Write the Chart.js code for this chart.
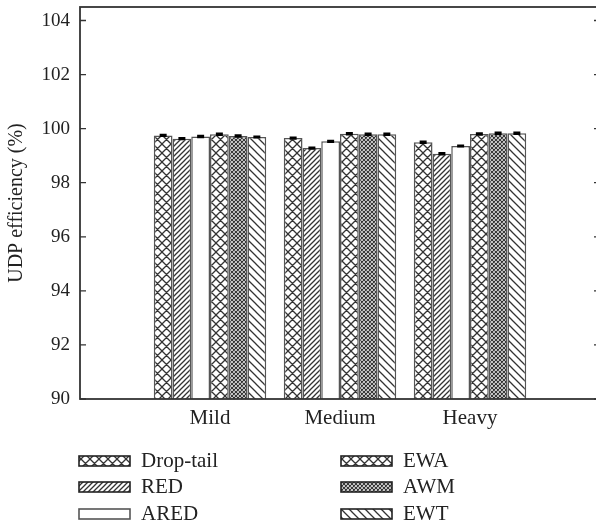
<!DOCTYPE html>
<html lang="en">
  <head>
    <meta charset="UTF-8" />
    <title>UDP efficiency</title>
    <style>
      html, body { margin: 0; padding: 0; background: #fff; overflow: hidden; }
      #wrap { width: 604px; height: 526px; }
    </style>
  </head>
  <body>
    <div id="wrap"><canvas id="myChart" width="604" height="526"></canvas></div>

    <script src="https://cdn.jsdelivr.net/npm/chart.js@4.4.1/dist/chart.umd.min.js"></script>
    <script>
      // data
      const categories = ["Mild", "Medium", "Heavy"];
      const schemes = ["Drop-tail", "RED", "ARED", "EWA", "AWM", "EWT"];
      const dropTail = [99.75, 99.65, 99.50];
      const red = [99.63, 99.28, 99.07];
      const ared = [99.71, 99.53, 99.36];
      const ewa = [99.79, 99.81, 99.80];
      const awm = [99.73, 99.79, 99.83];
      const ewt = [99.69, 99.79, 99.83];
      const errDropTail = [0.03, 0.03, 0.03];
      const errRed = [0.03, 0.03, 0.03];
      const errAred = [0.03, 0.03, 0.02];
      const errEwa = [0.03, 0.03, 0.03];
      const errAwm = [0.03, 0.03, 0.03];
      const errEwt = [0.02, 0.03, 0.03];
      const yTicks = [90, 92, 94, 96, 98, 100, 102, 104];

      const values = [dropTail, red, ared, ewa, awm, ewt];
      const errors = [errDropTail, errRed, errAred, errEwa, errAwm, errEwt];
      const fills = ["cross", "fwd", "none", "cross", "dense", "back"];

      function makePattern(kind) {
        if (kind === "none") return "#ffffff";
        const size = { cross: 9, fwd: 5, dense: 4, back: 8 }[kind];
        const c = document.createElement("canvas");
        c.width = size; c.height = size;
        const g = c.getContext("2d");
        g.fillStyle = "#fff";
        g.fillRect(0, 0, size, size);
        g.strokeStyle = "#333";
        g.lineWidth = kind === "dense" ? 1.2 : 1.3;
        g.beginPath();
        if (kind === "cross" || kind === "dense" || kind === "back") {
          g.moveTo(-1, -1); g.lineTo(size + 1, size + 1);
          g.moveTo(-1, size - 1); g.lineTo(1, size + 1);
          g.moveTo(size - 1, -1); g.lineTo(size + 1, 1);
        }
        if (kind === "cross" || kind === "dense" || kind === "fwd") {
          g.moveTo(-1, size + 1); g.lineTo(size + 1, -1);
          g.moveTo(-1, 1); g.lineTo(1, -1);
          g.moveTo(size - 1, size + 1); g.lineTo(size + 1, size - 1);
        }
        g.stroke();
        return g.createPattern(c, "repeat");
      }

      const datasets = schemes.map((name, i) => ({
        label: name,
        data: values[i].map((v, j) => ({ x: j + 1, y: v })),
        errs: errors[i],
        backgroundColor: makePattern(fills[i]),
        borderColor: "#555",
        borderWidth: 1.5
      }));

      // frame with inward ticks on both sides
      const framePlugin = {
        id: "frame",
        afterDatasetsDraw(chart) {
          const { ctx, chartArea: a, scales } = chart;
          ctx.save();
          ctx.strokeStyle = "#333";
          ctx.lineWidth = 1.8;
          ctx.strokeRect(a.left, a.top, a.right - a.left, a.bottom - a.top);
          ctx.lineWidth = 1.3;
          ctx.beginPath();
          yTicks.forEach(t => {
            const y = scales.y.getPixelForValue(t);
            ctx.moveTo(a.left, y); ctx.lineTo(a.left + 6, y);
            ctx.moveTo(a.right, y); ctx.lineTo(a.right - 6, y);
          });
          ctx.stroke();
          ctx.restore();
        }
      };

      const errorPlugin = {
        id: "errbars",
        afterDatasetsDraw(chart) {
          const { ctx, scales } = chart;
          ctx.save();
          ctx.strokeStyle = "#000";
          ctx.lineWidth = 1.8;
          chart.data.datasets.forEach((ds, i) => {
            chart.getDatasetMeta(i).data.forEach((bar, j) => {
              const v = ds.data[j].y, e = ds.errs[j];
              const y1 = scales.y.getPixelForValue(v + e);
              const y2 = scales.y.getPixelForValue(v - e);
              ctx.beginPath();
              ctx.moveTo(bar.x, y1); ctx.lineTo(bar.x, y2);
              ctx.moveTo(bar.x - 3.5, y1); ctx.lineTo(bar.x + 3.5, y1);
              ctx.moveTo(bar.x - 3.5, y2); ctx.lineTo(bar.x + 3.5, y2);
              ctx.stroke();
            });
          });
          ctx.restore();
        }
      };

      // two-column legend under the plot
      const legendPlugin = {
        id: "sideLegend",
        afterDraw(chart) {
          const { ctx } = chart;
          const colX = [79, 341], rowY = [461, 487, 514];
          ctx.save();
          ctx.font = "21px 'Liberation Serif', 'DejaVu Serif', serif";
          chart.data.datasets.forEach((ds, i) => {
            const x = colX[Math.floor(i / 3)], y = rowY[i % 3];
            ctx.fillStyle = ds.backgroundColor;
            ctx.fillRect(x, y - 5, 51, 10);
            ctx.strokeStyle = fills[i] === "none" ? "#555" : "#222";
            ctx.lineWidth = 1.6;
            ctx.strokeRect(x, y - 5, 51, 10);
            ctx.fillStyle = "#222";
            ctx.textBaseline = "alphabetic";
            ctx.fillText(ds.label, x + 62, y + 6);
          });
          ctx.restore();
        }
      };

      Chart.defaults.font.family = "'Liberation Serif', 'DejaVu Serif', serif";
      Chart.defaults.font.size = 19;
      Chart.defaults.color = "#222";

      new Chart(document.getElementById("myChart"), {
        type: "bar",
        data: { datasets: datasets },
        options: {
          responsive: false,
          animation: false,
          layout: { padding: { top: 7, right: 4, left: 0, bottom: 0 } },
          datasets: { bar: { barPercentage: 1, categoryPercentage: 0.865 } },
          plugins: { legend: { display: false }, tooltip: { enabled: false } },
          scales: {
            x: {
              type: "linear",
              offset: false,
              min: 0,
              max: 4,
              grid: { display: false, drawTicks: false },
              border: { display: false },
              ticks: {
                stepSize: 1,
                padding: 7,
                font: { size: 21 },
                callback: v => categories[v - 1] || ""
              },
              afterFit: s => { s.height = 127; s.paddingLeft = 0; s.paddingRight = 0; }
            },
            y: {
              min: 90,
              max: 104.5,
              grid: { display: false, drawTicks: false },
              border: { display: false },
              ticks: { stepSize: 2, includeBounds: false, padding: 10 },
              title: { display: true, text: "UDP efficiency (%)", font: { size: 20 }, padding: { top: 5, bottom: 0 } },
              afterFit: s => { s.width = 80; s.paddingTop = 0; s.paddingBottom = 0; }
            }
          }
        },
        plugins: [errorPlugin, framePlugin, legendPlugin]
      });
    </script>
  </body>
</html>
